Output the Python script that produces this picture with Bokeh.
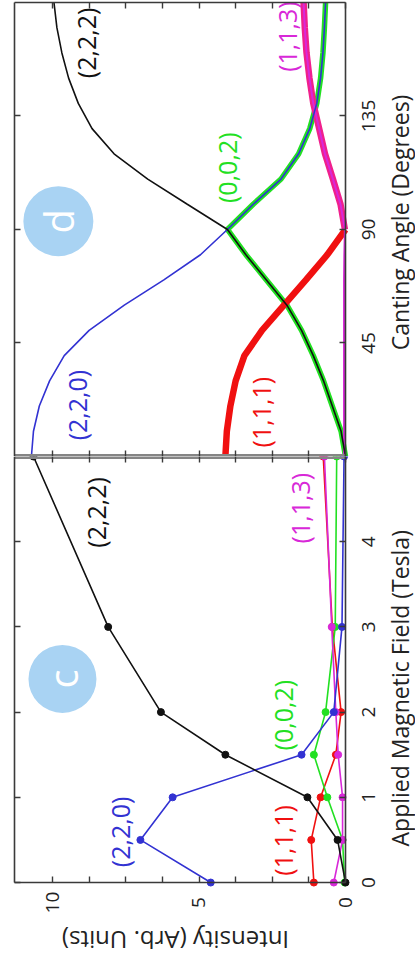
import math
from bokeh.plotting import figure
from bokeh.models import Range1d, LinearAxis, FixedTicker, ColumnDataSource, Label, LabelSet
from bokeh.layouts import column
from bokeh.core.properties import value
from bokeh.embed import file_html
from bokeh.resources import INLINE

FONT = "Open Sans"

# ---------------- data: panel c (intensity vs applied field) ----------------
field_T = [0, 0.5, 1, 1.5, 2, 3, 5]
c_222 = [0.0, 0.27, 1.3, 4.1, 6.3, 8.1, 10.65]
c_220 = [4.6, 7.0, 5.9, 1.5, 0.4, 0.12, 0.05]
c_111 = [1.08, 1.17, 0.85, 0.33, 0.15, 0.45, 0.76]
c_002 = [0.03, 0.1, 0.62, 1.08, 0.68, 0.35, 0.3]
c_113 = [0.4, 0.1, 0.1, 0.25, 0.33, 0.47, 0.72]

# ---------------- data: panel d (intensity vs canting angle) ----------------
angle_deg = [0, 10, 20, 30, 40, 50, 60, 70, 80, 90, 100, 110, 120, 130, 140, 150, 160, 170, 180]
d_220 = [10.72, 10.65, 10.45, 10.1, 9.6, 8.75, 7.55, 6.2, 4.95, 4.03, 3.15, 2.2, 1.6, 1.22, 0.98, 0.85, 0.77, 0.72, 0.68]
d_222 = [0.0, 0.15, 0.45, 0.75, 1.1, 1.5, 2.0, 2.7, 3.4, 4.03, 5.4, 6.75, 7.9, 8.65, 9.12, 9.45, 9.68, 9.85, 9.95]
d_002 = [0.0, 0.15, 0.45, 0.75, 1.1, 1.5, 2.0, 2.7, 3.4, 4.03, 3.15, 2.2, 1.6, 1.22, 0.98, 0.85, 0.77, 0.72, 0.68]
angle_low = [0, 10, 20, 30, 40, 50, 60, 70, 80, 90]
d_111 = [4.1, 4.05, 3.93, 3.75, 3.45, 2.85, 2.1, 1.35, 0.62, 0.0]
d_113 = [0.05, 0.05, 0.05, 0.05, 0.05, 0.05, 0.05, 0.05, 0.04, 0.02, 0.17, 0.43, 0.7, 0.9, 1.1, 1.23, 1.33, 1.39, 1.43]

reflections = ["(2,2,2)", "(2,2,0)", "(1,1,1)", "(0,0,2)", "(1,1,3)"]
panel_letters = ["d", "c"]

intensity_major = [0, 5, 10]
intensity_all = [0, 1.25, 2.5, 3.75, 5, 6.25, 7.5, 8.75, 10]
field_ticks = [0, 1, 2, 3, 4]
angle_ticks = [45, 90, 135]

x_title = "Intensity (Arb. Units)"
field_title = "Applied Magnetic Field (Tesla)"
angle_title = "Canting Angle (Degrees)"

# axis extents (data units)
I_MAX = 11.3
FIELD_MAX = 5
ANGLE_MAX = 180

# ---------------- styles ----------------
BLACK = "#111111"
BLUE = "#3232D2"
RED = "#F01010"
GREEN = "#22E022"
MAGENTA = "#D828D8"
PINK = "#F0208C"
BADGE = "#A9D3F3"
EDGE = "#3a3a3a"
BAND = "#858585"
TXT = "#222222"

# the frame covers the whole canvas; the panel edges are drawn by fixed axes
x_range = Range1d(11.775, -2.389)


def base_fig(y_range, h):
    p = figure(x_range=x_range, y_range=y_range, width=415, height=h,
               min_border_left=0, min_border_right=0, min_border_top=0,
               min_border_bottom=0, x_axis_location=None, y_axis_location=None,
               output_backend="svg", toolbar_location=None)
    p.outline_line_color = None
    p.grid.visible = False
    p.background_fill_color = "white"
    p.border_fill_color = "white"
    return p


def edge_axis(p, side, loc, bounds, ticks, color=EDGE, width=1.6):
    ax = LinearAxis(ticker=FixedTicker(ticks=[], minor_ticks=ticks),
                    fixed_location=loc, bounds=bounds)
    ax.major_label_standoff = 0
    ax.major_tick_in = 0
    ax.major_tick_out = 0
    ax.minor_tick_in = 6
    ax.minor_tick_out = 0
    ax.axis_line_color = color
    ax.axis_line_width = width
    ax.minor_tick_line_color = EDGE
    ax.minor_tick_line_width = 1.4
    p.add_layout(ax, side)


def add_text(p, x, y, txt, color, size="25px", align="left"):
    p.text(x=[x], y=[y], text=[txt], angle=math.pi / 2, text_align=align,
           text_baseline="middle", text_font=value(FONT), text_font_size=size,
           text_color=color)


def tick_labels(p, xs, ys, texts, size="19px"):
    src = ColumnDataSource(dict(x=xs, y=ys, t=texts))
    p.add_layout(LabelSet(x="x", y="y", text="t", source=src, angle=math.pi / 2,
                          text_align="center", text_baseline="middle",
                          text_font=value(FONT), text_font_size=size, text_color=TXT))


# ================= panel d (top) =================
pd_ = base_fig(Range1d(0, 180.79), 456)
edge_axis(pd_, "left", I_MAX, (0, ANGLE_MAX), angle_ticks)
edge_axis(pd_, "right", 0, (0, ANGLE_MAX), angle_ticks)
edge_axis(pd_, "above", ANGLE_MAX, (0, I_MAX), intensity_all)
edge_axis(pd_, "below", 0, (0, I_MAX), intensity_all, color=BAND, width=5)

tick_labels(pd_, [-0.785] * len(angle_ticks), angle_ticks, [str(v) for v in angle_ticks])
pd_.add_layout(Label(x=-1.86, y=92.8, text=angle_title, angle=math.pi / 2,
                     text_align="center", text_baseline="middle", text_font=FONT,
                     text_font_size="23px", text_color=TXT))

# badge
pd_.scatter(x=[9.8], y=[93.3], size=70, fill_color=BADGE, line_color=None)
add_text(pd_, 9.8, 93.3, panel_letters[0], "white", size="40px", align="center")

src_d = ColumnDataSource(dict(a=angle_deg, i220=d_220, i222=d_222, i002=d_002, i113=d_113))
src_dl = ColumnDataSource(dict(a=angle_low, i111=d_111))
src_dh = ColumnDataSource(dict(a=[a for a in angle_deg if a >= 90],
                               i113=[v for a, v in zip(angle_deg, d_113) if a >= 90]))

pd_.line("i002", "a", source=src_d, line_color=GREEN, line_width=5.5)
pd_.line("i111", "a", source=src_dl, line_color=RED, line_width=6.5)
pd_.line("i113", "a", source=src_dh, line_color=PINK, line_width=6.5)
pd_.line("i113", "a", source=src_d, line_color=MAGENTA, line_width=2)
pd_.line("i220", "a", source=src_d, line_color=BLUE, line_width=1.6)
pd_.line("i222", "a", source=src_d, line_color=BLACK, line_width=1.6)

add_text(pd_, 8.87, 150, reflections[0], BLACK)
add_text(pd_, 9.15, 6.4, reflections[1], BLUE)
add_text(pd_, 2.9, 3.6, reflections[2], RED)
add_text(pd_, 4.03, 100.5, reflections[3], GREEN)
add_text(pd_, 1.98, 152.5, reflections[4], MAGENTA)

# ================= panel c (bottom) =================
pc = base_fig(Range1d(-0.962, 5.0), 508)
edge_axis(pc, "left", I_MAX, (0, FIELD_MAX), field_ticks)
edge_axis(pc, "right", 0, (0, FIELD_MAX), field_ticks)
edge_axis(pc, "above", FIELD_MAX, (0, I_MAX), intensity_all, color=BAND, width=5)
edge_axis(pc, "below", 0, (0, I_MAX), intensity_all)

tick_labels(pc, [-0.785] * len(field_ticks), field_ticks, [str(v) for v in field_ticks])
tick_labels(pc, intensity_major, [-0.235] * len(intensity_major), [str(v) for v in intensity_major])
pc.add_layout(Label(x=-1.86, y=2.28, text=field_title, angle=math.pi / 2,
                    text_align="center", text_baseline="middle", text_font=FONT,
                    text_font_size="23px", text_color=TXT))
pc.add_layout(Label(x=5.8, y=-0.68, text=x_title, angle=math.pi,
                    text_align="center", text_baseline="middle", text_font=FONT,
                    text_font_size="24px", text_color=TXT))

pc.scatter(x=[9.66], y=[2.39], size=68, fill_color=BADGE, line_color=None)
add_text(pc, 9.66, 2.39, panel_letters[1], "white", size="40px", align="center")

src_c = ColumnDataSource(dict(b=field_T, i222=c_222, i220=c_220, i111=c_111, i002=c_002, i113=c_113))
for col, colr in [("i111", RED), ("i002", GREEN), ("i113", MAGENTA), ("i220", BLUE), ("i222", BLACK)]:
    pc.line(col, "b", source=src_c, line_color=colr, line_width=1.6)
    pc.scatter(col, "b", source=src_c, size=7, fill_color=colr, line_color=colr)

add_text(pc, 8.53, 3.93, reflections[0], BLACK)
add_text(pc, 7.68, 0.18, reflections[1], BLUE)
add_text(pc, 2.15, 0.08, reflections[2], RED)
add_text(pc, 2.12, 1.55, reflections[3], GREEN)
add_text(pc, 1.54, 3.98, reflections[4], MAGENTA)

layout = column(pd_, pc, spacing=0)
open("out.html", "w").write(file_html(layout, INLINE))
